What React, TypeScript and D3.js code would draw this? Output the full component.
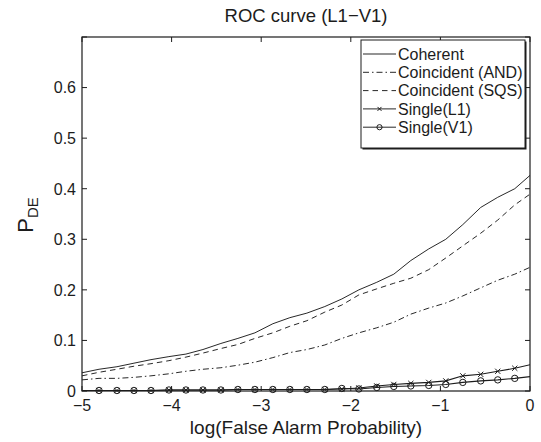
import React from "react";
import * as d3 from "d3";

const xValues = [-5.0, -4.81, -4.61, -4.42, -4.23, -4.03, -3.84, -3.65, -3.45, -3.26, -3.07, -2.87, -2.68, -2.49, -2.29, -2.1, -1.91, -1.71, -1.52, -1.33, -1.13, -0.94, -0.75, -0.55, -0.36, -0.17, 0.03];
const coherent = [0.036, 0.043, 0.048, 0.055, 0.062, 0.068, 0.073, 0.082, 0.094, 0.104, 0.115, 0.133, 0.145, 0.154, 0.167, 0.182, 0.2, 0.215, 0.231, 0.258, 0.281, 0.3, 0.329, 0.363, 0.383, 0.4, 0.431];
const coincidentAND = [0.022, 0.025, 0.025, 0.027, 0.03, 0.034, 0.039, 0.043, 0.046, 0.051, 0.057, 0.066, 0.076, 0.082, 0.091, 0.104, 0.115, 0.125, 0.136, 0.152, 0.164, 0.174, 0.188, 0.204, 0.219, 0.231, 0.247];
const coincidentSQS = [0.03, 0.037, 0.043, 0.049, 0.054, 0.06, 0.067, 0.075, 0.084, 0.092, 0.104, 0.115, 0.128, 0.139, 0.156, 0.17, 0.19, 0.202, 0.213, 0.223, 0.24, 0.263, 0.287, 0.312, 0.338, 0.368, 0.393];
const singleL1 = [0.001, 0.001, 0.001, 0.001, 0.001, 0.002, 0.002, 0.002, 0.002, 0.003, 0.003, 0.003, 0.003, 0.003, 0.003, 0.004, 0.006, 0.01, 0.013, 0.015, 0.017, 0.02, 0.03, 0.033, 0.039, 0.045, 0.053];
const singleV1 = [0.001, 0.001, 0.001, 0.001, 0.001, 0.002, 0.002, 0.002, 0.002, 0.003, 0.003, 0.003, 0.003, 0.003, 0.003, 0.005, 0.004, 0.007, 0.009, 0.01, 0.011, 0.013, 0.017, 0.02, 0.022, 0.025, 0.029];

const xTicks = [-5, -4, -3, -2, -1, 0];
const yTicks = [0, 0.1, 0.2, 0.3, 0.4, 0.5, 0.6];
const yTicksAll = [0, 0.1, 0.2, 0.3, 0.4, 0.5, 0.6, 0.7];
const seriesNames = ["Coherent", "Coincident (AND)", "Coincident (SQS)", "Single(L1)", "Single(V1)"];

const W = 541, H = 442;
const L = 82, R = 530, T = 37, B = 391;
const FONT = "'Liberation Sans', Arial, Helvetica, sans-serif";
const INK = "#1c1c1c";

type Style = { dash?: string; marker?: "x" | "o" };
const styles: Style[] = [
  {},
  { dash: "6 3 1.5 3" },
  { dash: "5.5 4" },
  { marker: "x" },
  { marker: "o" },
];

function Marker({ kind, cx, cy, s = 2.6 }: { kind?: "x" | "o"; cx: number; cy: number; s?: number }) {
  if (kind === "x") {
    return (
      <path d={`M${cx - s},${cy - s}L${cx + s},${cy + s}M${cx - s},${cy + s}L${cx + s},${cy - s}`} stroke={INK} strokeWidth={1} fill="none" />
    );
  }
  if (kind === "o") {
    return <circle cx={cx} cy={cy} r={s + 0.6} fill="none" stroke={INK} strokeWidth={1} />;
  }
  return null;
}

export default function App() {
  const x = d3.scaleLinear().domain([-5, 0]).range([L, R]);
  const y = d3.scaleLinear().domain([0, 0.7]).range([B, T]);
  const allSeries = [coherent, coincidentAND, coincidentSQS, singleL1, singleV1];
  const line = d3
    .line<number>()
    .x((_, i) => x(xValues[i]))
    .y((d) => y(d));

  const legX = 361, legY = 40, legW = 164, legH = 108;
  const rowY = (i: number) => legY + 14 + i * 18.3;

  return (
    <svg width={W} height={H} style={{ position: "absolute", left: 0, top: 0, background: "#fff" }} fontFamily={FONT}>
      <defs>
        <clipPath id="plot">
          <rect x={L} y={T} width={R - L} height={B - T} />
        </clipPath>
      </defs>
      <rect x={0} y={0} width={W} height={H} fill="#fff" />
      <text x={(L + R) / 2} y={22} textAnchor="middle" fontSize={18.5} fill={INK}>
        ROC curve (L1−V1)
      </text>

      {/* series */}
      <g clipPath="url(#plot)">
        {allSeries.map((s, si) => (
          <path key={si} d={line(s) || ""} fill="none" stroke={INK} strokeWidth={si >= 3 ? 1.1 : 0.95} strokeDasharray={styles[si].dash} />
        ))}
      </g>
      {allSeries.map((s, si) =>
        styles[si].marker
          ? s.map((v, i) =>
              xValues[i] > -5 && xValues[i] <= 0 ? (
                <Marker key={`${si}-${i}`} kind={styles[si].marker} cx={x(xValues[i])} cy={y(v)} />
              ) : null
            )
          : null
      )}

      {/* axes box and ticks */}
      <rect x={L} y={T} width={R - L} height={B - T} fill="none" stroke={INK} strokeWidth={1.2} />
      {xTicks.map((t) => (
        <g key={`xt${t}`}>
          <line x1={x(t)} x2={x(t)} y1={B} y2={B - 5} stroke={INK} />
          <line x1={x(t)} x2={x(t)} y1={T} y2={T + 5} stroke={INK} />
          <text x={x(t)} y={410.5} textAnchor="middle" fontSize={16} fill={INK}>
            {t < 0 ? `−${Math.abs(t)}` : `${t}`}
          </text>
        </g>
      ))}
      {yTicksAll.map((t) => (
        <g key={`yt${t}`}>
          <line x1={L} x2={L + 5} y1={y(t)} y2={y(t)} stroke={INK} />
          <line x1={R} x2={R - 5} y1={y(t)} y2={y(t)} stroke={INK} />
        </g>
      ))}
      {yTicks.map((t) => (
        <text key={`yl${t}`} x={76} y={y(t) + 5.8} textAnchor="end" fontSize={16} fill={INK}>
          {t === 0 ? "0" : t.toFixed(1)}
        </text>
      ))}

      {/* axis labels */}
      <text x={(L + R) / 2} y={434} textAnchor="middle" fontSize={19} fill={INK}>
        log(False Alarm Probability)
      </text>
      <text transform={`translate(33,215) rotate(-90)`} textAnchor="middle" fontSize={22} fill={INK}>
        P<tspan fontSize={15} dy={5}>DE</tspan>
      </text>

      {/* legend */}
      <rect x={legX + 1.5} y={legY + 1.5} width={legW} height={legH} fill={INK} />
      <rect x={legX} y={legY} width={legW} height={legH} fill="#fff" stroke={INK} strokeWidth={1} />
      {seriesNames.map((name, i) => (
        <g key={name}>
          <line x1={legX + 2} x2={legX + 35} y1={rowY(i)} y2={rowY(i)} stroke={INK} strokeWidth={0.95} strokeDasharray={styles[i].dash} />
          <Marker kind={styles[i].marker} cx={legX + 18.5} cy={rowY(i)} s={2} />
          <text x={legX + 37} y={rowY(i) + 5.8} fontSize={16} fill={INK}>
            {name}
          </text>
        </g>
      ))}
    </svg>
  );
}
